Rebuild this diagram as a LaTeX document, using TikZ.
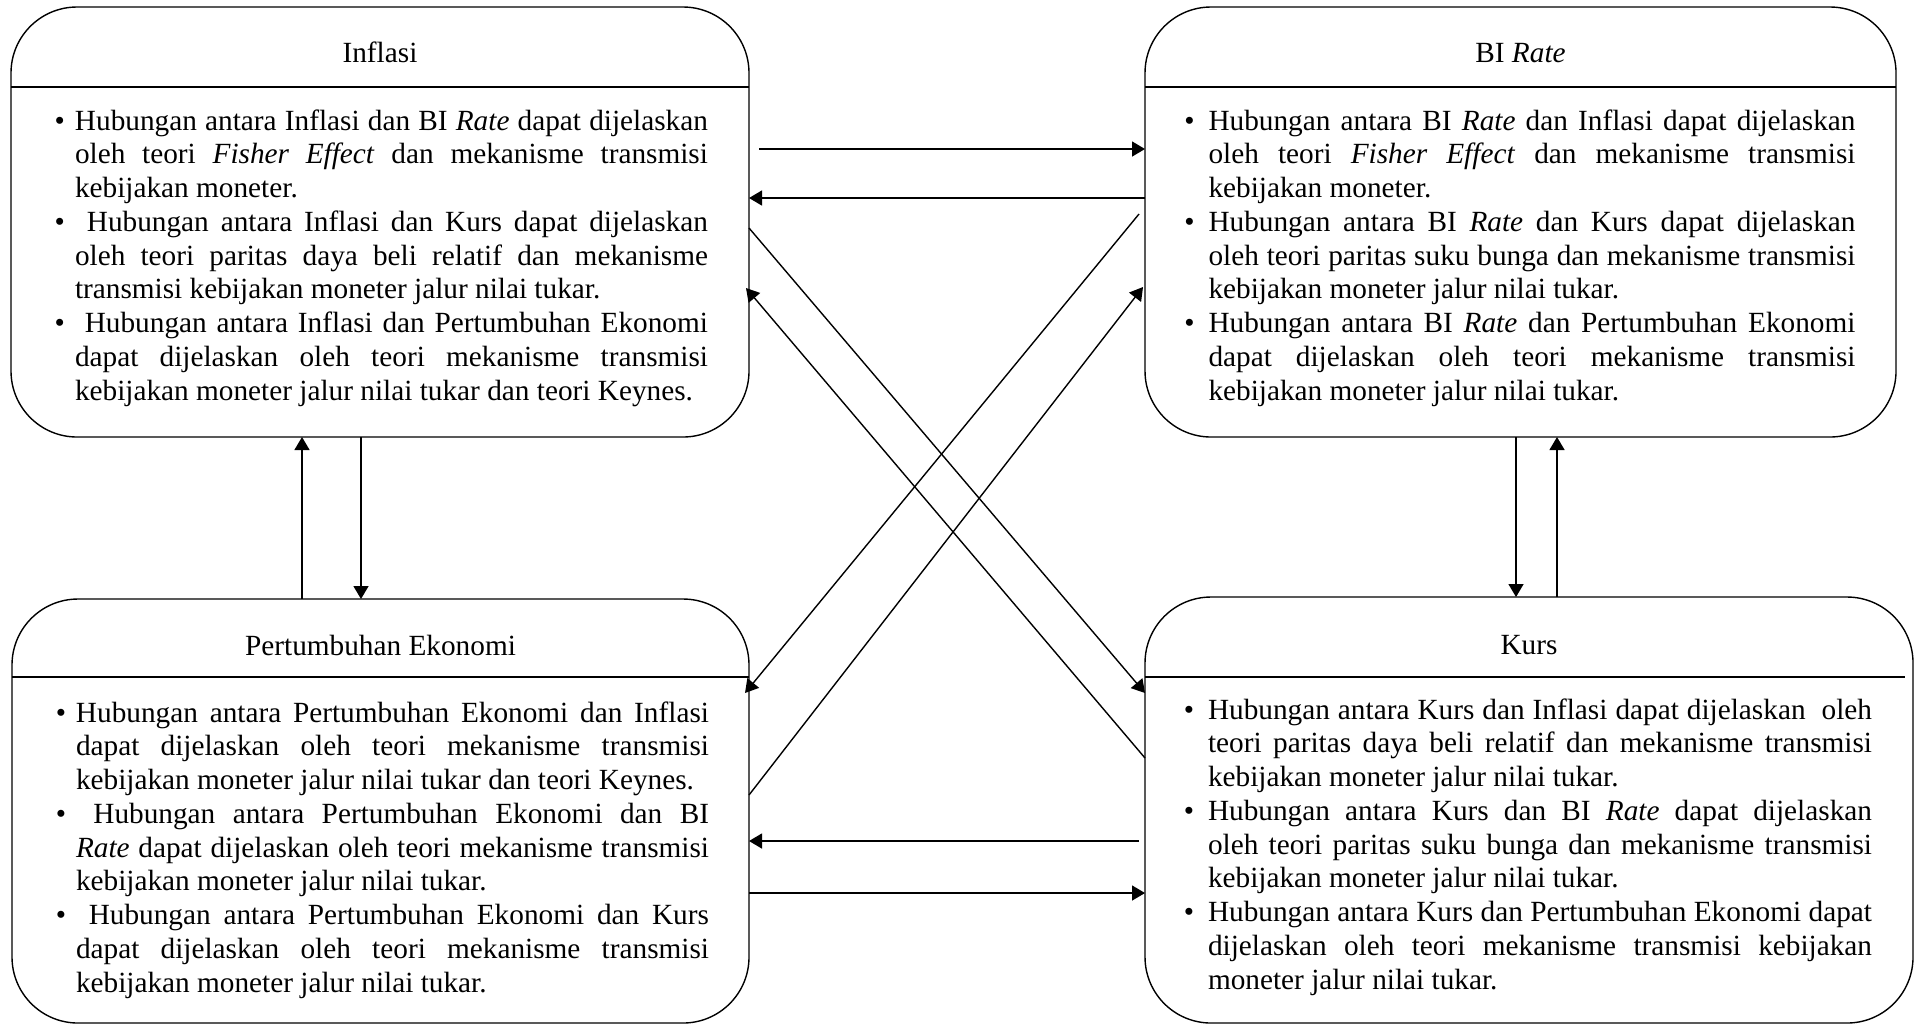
\documentclass[tikz,border=0pt]{standalone}
\usepackage{fontspec}
\setmainfont[Ligatures=NoCommon]{Liberation Serif}
\usetikzlibrary{arrows.meta}
\newcommand{\bodyfont}{\fontsize{14.64pt}{16.875pt}\selectfont}
\newcommand{\bul}[1][5pt]{\noindent\llap{\textbullet\hspace{#1}}}
\newcommand{\itm}{\par\bul}
\tikzstyle{every node}=[font=\bodyfont, inner sep=0, outer sep=0]
\tikzstyle{box}=[draw, line width=.7pt, rounded corners=33pt, anchor=north west]
\tikzstyle{head}=[line width=.7pt]
\tikzstyle{txt}=[anchor=base west, align=justify, font={\bodyfont\hyphenpenalty=10000\exhyphenpenalty=10000\tolerance=10000}]
\tikzstyle{arr}=[line width=.7pt, -{Triangle[length=6.5pt,width=7.5pt]}]

\begin{document}
\begin{tikzpicture}[x=.5pt,y=-.5pt]
	\useasboundingbox (0,0) rectangle (1914,1025);
	\node[box, minimum width=369pt, minimum height=215pt] (inflasi) at (11,7) {};
	\node[box, minimum width=375.5pt, minimum height=215pt] (birate) at (1145,7) {};
	\node[box, minimum width=368.5pt, minimum height=212pt] (ekonomi) at (12,599) {};
	\node[box, minimum width=384pt, minimum height=213pt] (kurs) at (1145,597) {};

	\node[anchor=base] (inflasititle) at ([shift={(0,55)}]inflasi.north) {Inflasi};
	\node[anchor=base] (biratetitle) at ([shift={(0,55)}]birate.north) {BI \textit{Rate}};
	\node[anchor=base] (ekonomititle) at ([shift={(0,56)}]ekonomi.north) {Pertumbuhan Ekonomi};
	\node[anchor=base] (kurstitle) at ([shift={(0,57)}]kurs.north) {Kurs};

	\draw[head] ([shift={(0,80)}]inflasi.north west) -- ([shift={(0,80)}]inflasi.north east);
	\draw[head] ([shift={(0,80)}]birate.north west) -- ([shift={(0,80)}]birate.north east);
	\draw[head] ([shift={(0,78)}]ekonomi.north west) -- ([shift={(0,78)}]ekonomi.north east);
	\draw[head] ([shift={(0,80)}]kurs.north west) -- ([shift={(-8,80)}]kurs.north east);

	\node[txt, text width=316.5pt] (inflasitext) at ([shift={(64,123)}]inflasi.north west) {%
		\bul Hubungan antara Inflasi dan BI \textit{Rate} dapat dijelaskan\linebreak
		oleh teori \textit{Fisher Effect} dan mekanisme transmisi\linebreak
		kebijakan moneter.
		\itm\ Hubungan antara Inflasi dan Kurs dapat dijelaskan\linebreak
		oleh teori paritas daya beli relatif dan mekanisme\linebreak
		transmisi kebijakan moneter jalur nilai tukar.
		\itm\ Hubungan antara Inflasi dan Pertumbuhan Ekonomi\linebreak
		dapat dijelaskan oleh teori mekanisme transmisi\linebreak
		kebijakan moneter jalur nilai tukar dan teori Keynes.};
	\node[txt, text width=323.5pt] (biratetext) at ([shift={(63.5,123)}]birate.north west) {%
		\bul[7pt]Hubungan antara BI \textit{Rate} dan Inflasi dapat dijelaskan\linebreak
		oleh teori \textit{Fisher Effect} dan mekanisme transmisi\linebreak
		kebijakan moneter.
		\par\bul[7pt]Hubungan antara BI \textit{Rate} dan Kurs dapat dijelaskan\linebreak
		oleh teori paritas suku bunga dan mekanisme transmisi\linebreak
		kebijakan moneter jalur nilai tukar.
		\par\bul[7pt]Hubungan antara BI \textit{Rate} dan Pertumbuhan Ekonomi\linebreak
		dapat dijelaskan oleh teori mekanisme transmisi\linebreak
		kebijakan moneter jalur nilai tukar.};
	\node[txt, text width=316.5pt] (ekonomitext) at ([shift={(64,123)}]ekonomi.north west) {%
		\bul Hubungan antara Pertumbuhan Ekonomi dan Inflasi\linebreak
		dapat dijelaskan oleh teori mekanisme transmisi\linebreak
		kebijakan moneter jalur nilai tukar dan teori Keynes.
		\itm\ Hubungan antara Pertumbuhan Ekonomi dan BI\linebreak
		\textit{Rate} dapat dijelaskan oleh teori mekanisme transmisi\linebreak
		kebijakan moneter jalur nilai tukar.
		\itm\ Hubungan antara Pertumbuhan Ekonomi dan Kurs\linebreak
		dapat dijelaskan oleh teori mekanisme transmisi\linebreak
		kebijakan moneter jalur nilai tukar.};
	\node[txt, text width=332pt] (kurstext) at ([shift={(63,122)}]kurs.north west) {%
		\bul[7pt]Hubungan antara Kurs dan Inflasi dapat dijelaskan \ oleh\linebreak
		teori paritas daya beli relatif dan mekanisme transmisi\linebreak
		kebijakan moneter jalur nilai tukar.
		\par\bul[7pt]Hubungan antara Kurs dan BI \textit{Rate} dapat dijelaskan\linebreak
		oleh teori paritas suku bunga dan mekanisme transmisi\linebreak
		kebijakan moneter jalur nilai tukar.
		\par\bul[7pt]Hubungan antara Kurs dan Pertumbuhan Ekonomi dapat\linebreak
		dijelaskan oleh teori mekanisme transmisi kebijakan\linebreak
		moneter jalur nilai tukar.};

	\coordinate[] (down1) at ([shift={(-19,0)}]inflasi.south);
	\coordinate[] (up1) at ([shift={(-78,0)}]inflasi.south);
	\coordinate[] (down2) at ([shift={(-4.5,0)}]birate.south);
	\coordinate[] (up2) at ([shift={(36.5,0)}]birate.south);

	\draw[arr] ([shift={(10,142)}]inflasi.north east) -- ([shift={(0,142)}]birate.north west);
	\draw[arr] ([shift={(0,191)}]birate.north west) -- ([shift={(0,191)}]inflasi.north east);
	\draw[arr] ([shift={(0,221)}]inflasi.north east) -- ([shift={(0,96)}]kurs.north west);
	\draw[arr] ([shift={(0,161)}]kurs.north west) -- ([shift={(-3,281)}]inflasi.north east);
	\draw[arr] ([shift={(-6,207)}]birate.north west) -- ([shift={(-4,94)}]ekonomi.north east);
	\draw[arr] ([shift={(0,196)}]ekonomi.north east) -- ([shift={(-2,280)}]birate.north west);
	\draw[arr] ([shift={(-6,244)}]kurs.north west) -- ([shift={(0,242)}]ekonomi.north east);
	\draw[arr] ([shift={(0,294)}]ekonomi.north east) -- ([shift={(0,296)}]kurs.north west);
	\draw[arr] (down1) -- (down1 |- ekonomi.north);
	\draw[arr] (up1 |- ekonomi.north) -- (up1);
	\draw[arr] (down2) -- (down2 |- kurs.north);
	\draw[arr] (up2 |- kurs.north) -- (up2);
\end{tikzpicture}
\end{document}
